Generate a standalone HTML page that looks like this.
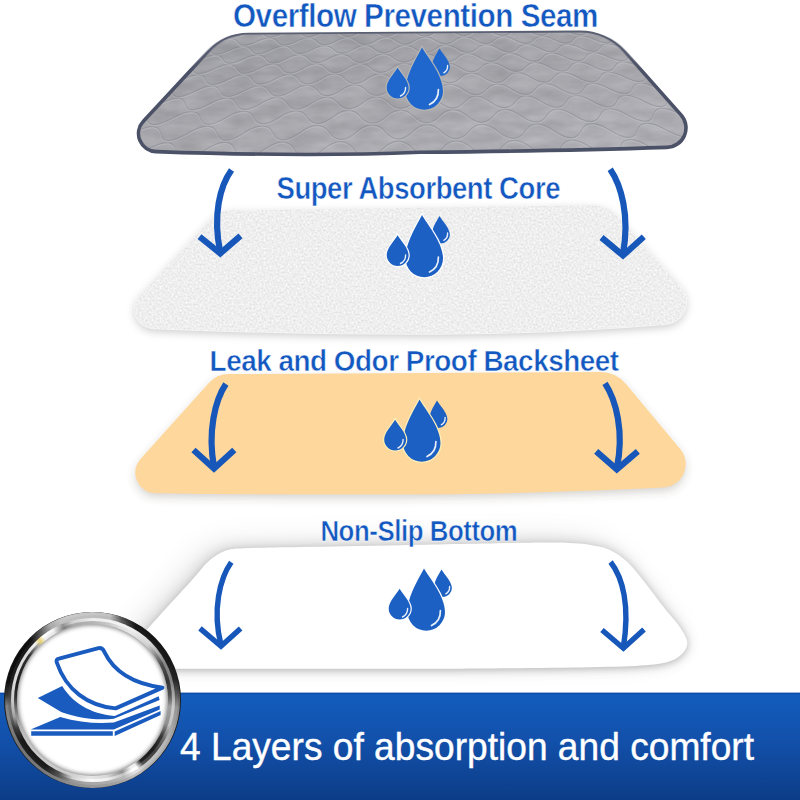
<!DOCTYPE html>
<html>
<head>
<meta charset="utf-8">
<title>4 Layers of absorption and comfort</title>
<style>
  html, body { margin: 0; padding: 0; background: #ffffff; }
  body { width: 800px; height: 800px; overflow: hidden; position: relative; font-family: "Liberation Sans", sans-serif; }
  svg { display: block; position: absolute; left: 0; top: 0; }
  .lbl { font-family: "Liberation Sans", sans-serif; font-weight: bold; fill: #1358c0; letter-spacing: -0.5px; stroke: #ffffff; stroke-width: 0.5px; }
  .banner-txt { font-family: "Liberation Sans", sans-serif; font-weight: normal; fill: #ffffff; stroke: #ffffff; stroke-width: 0.4px; }
  .ring { position: absolute; border-radius: 50%; }
  #ringEdge { left: 4.1px; top: 611.6px; width: 176.8px; height: 176.8px; background: #1c1c1c; }
  #ringB1 { left: 4.8px; top: 612.3px; width: 175.4px; height: 175.4px; background: conic-gradient(from 0deg, #c6c6c6 0deg, #c0c0c0 12deg, #505050 20deg, #181818 30deg, #141414 45deg, #161616 62deg, #222222 76deg, #505050 86deg, #888888 95deg, #989898 108deg, #a8a8a8 118deg, #b0b0b0 130deg, #b4b4b4 142deg, #c0c0c0 147deg, #c0c0c0 151deg, #a8a8a8 158deg, #9c9c9c 170deg, #989898 182deg, #909090 195deg, #808080 205deg, #787878 215deg, #747474 240deg, #7c7c7c 250deg, #888888 258deg, #808080 266deg, #383838 273deg, #101010 282deg, #0c0c0c 305deg, #121212 314deg, #505050 322deg, #a8a8a8 330deg, #c4c4c4 338deg, #c8c8c8 345deg, #c6c6c6 360deg); }
  #ringB2 { left: 7.5px; top: 615.0px; width: 170.0px; height: 170.0px; background: conic-gradient(from 0deg, #bebebe 0deg, #b8b8b8 12deg, #606060 20deg, #1c1c1c 30deg, #181818 45deg, #1a1a1a 62deg, #262626 76deg, #585858 86deg, #969696 95deg, #a4a4a4 108deg, #b4b4b4 118deg, #bebebe 130deg, #c4c4c4 142deg, #e0e0e0 147deg, #e0e0e0 151deg, #b8b8b8 158deg, #acacac 170deg, #a8a8a8 182deg, #989898 195deg, #505050 205deg, #202020 215deg, #1c1c1c 240deg, #383838 250deg, #686868 258deg, #707070 266deg, #404040 273deg, #202020 282deg, #1a1a1a 305deg, #202020 314deg, #606060 322deg, #a8a8a8 330deg, #c0c0c0 338deg, #c0c0c0 345deg, #bebebe 360deg); }
  #ringB3 { left: 10.5px; top: 618.0px; width: 164.0px; height: 164.0px; background: conic-gradient(from 0deg, #eeeeee 0deg, #f0f0f0 12deg, #f4f4f4 20deg, #eeeeee 30deg, #d8d8d8 45deg, #888888 62deg, #808080 76deg, #a8a8a8 86deg, #cccccc 95deg, #c4c4c4 108deg, #707070 118deg, #404040 130deg, #505050 142deg, #ffffff 147deg, #ffffff 151deg, #c0c0c0 158deg, #f0f0f0 170deg, #fafafa 182deg, #d0d0d0 195deg, #505050 205deg, #1a1a1a 215deg, #181818 240deg, #404040 250deg, #a0a0a0 258deg, #c0c0c0 266deg, #d0d0d0 273deg, #d8d8d8 282deg, #dcdcdc 305deg, #f0f0f0 314deg, #ead47a 318.5deg, #ffffff 322deg, #f4f4f4 330deg, #909090 338deg, #d0d0d0 345deg, #eeeeee 360deg); }
  #ringB4 { left: 13.5px; top: 621.0px; width: 158.0px; height: 158.0px; background: conic-gradient(from 0deg, #b4b4b4 0deg, #c8c8c8 12deg, #e0e0e0 20deg, #e8e8e8 30deg, #d0d0d0 45deg, #505050 62deg, #343434 76deg, #505050 86deg, #a0a0a0 95deg, #909090 108deg, #383838 118deg, #1c1c1c 130deg, #222222 142deg, #f0f0f0 147deg, #f0f0f0 151deg, #909090 158deg, #d8d8d8 170deg, #e6e6e6 182deg, #d0d0d0 195deg, #c8c8c8 205deg, #cccccc 215deg, #c4c4c4 240deg, #b0b0b0 250deg, #909090 258deg, #606060 266deg, #303030 273deg, #1c1c1c 282deg, #303030 305deg, #a0a0a0 314deg, #ead47a 318.5deg, #f0f0f0 322deg, #e8e8e8 330deg, #808080 338deg, #a8a8a8 345deg, #b4b4b4 360deg); }
  #ringHole { left: 16.7px; top: 624.2px; width: 151.6px; height: 151.6px; background: #ffffff; box-shadow: inset 0 0 4.5px 1px rgba(0,0,0,0.5); }
</style>
</head>
<body>
<svg width="800" height="800" viewBox="0 0 800 800">
  <defs>
    <!-- water drops icon; origin = tip of the big drop -->
    <g id="drops">
      <path d="M17.5,0.9 C20.5,6 27.9,13 27.9,19.5 A9,9 0 0 1 9.9,19.5 C9.9,13 14.5,6 17.5,0.9 Z" fill="var(--df,#1c60c4)"/>
      <path d="M25.6,18 C25.8,21.5 24.3,24 21.8,25.3" fill="none" stroke="#ffffff" stroke-opacity="0.9" stroke-width="1.4" stroke-linecap="round"/>
      <path d="M0,0 C5,9 21,27.5 21,43.4 A18.75,18.75 0 0 1 -16.5,43.4 C-16.5,27.5 -4.5,9 0,0 Z" fill="var(--df,#1c60c4)" stroke="currentColor" stroke-width="2.4" paint-order="stroke"/>
      <path d="M16.4,42 C16.6,49 13,54.5 7.5,57" fill="none" stroke="#ffffff" stroke-opacity="0.9" stroke-width="1.7" stroke-linecap="round"/>
      <path d="M-24.4,20.2 C-21.5,25.5 -13.4,33 -13.4,40 A10.95,10.95 0 0 1 -35.3,40 C-35.3,33 -27.3,25.5 -24.4,20.2 Z" fill="var(--df,#1c60c4)" stroke="currentColor" stroke-width="2.4" paint-order="stroke"/>
      <path d="M-16.4,40 C-16.3,44 -18.5,47 -21.5,48.5" fill="none" stroke="#ffffff" stroke-opacity="0.9" stroke-width="1.4" stroke-linecap="round"/>
    </g>

    <linearGradient id="pad1G" x1="0.1" y1="0" x2="0.9" y2="1">
      <stop offset="0" stop-color="#9a9aa1"/>
      <stop offset="0.5" stop-color="#a6a6ab"/>
      <stop offset="1" stop-color="#b0b0b6"/>
    </linearGradient>
    <linearGradient id="pad1MG" x1="0" y1="34" x2="0" y2="70" gradientUnits="userSpaceOnUse">
      <stop offset="0" stop-color="#000000"/>
      <stop offset="1" stop-color="#ffffff"/>
    </linearGradient>
    <mask id="pad1M" maskUnits="userSpaceOnUse" x="100" y="20" width="620" height="150"><rect x="100" y="20" width="620" height="150" fill="url(#pad1MG)"/></mask>
    <clipPath id="pad1C"><path d="M208.4,51.3 A55,55 0 0 1 248.4,33.7 L579.5,31.5 A60,60 0 0 1 624.8,51.6 L681.0,114.9 A19.5,19.5 0 0 1 666.9,147.4 Q560,151 420,152.3 Q307,157 156.1,151.6 A18,18 0 0 1 143.4,121.3 Z"/></clipPath>
    <clipPath id="pad2C"><path d="M210.4,219.9 A30,30 0 0 1 231.9,210.3 L591.3,205.2 A35,35 0 0 1 617.8,216.8 L680.6,286.6 A22.5,22.5 0 0 1 664.8,324.2 Q560,333 437,334 Q300,334.5 153.7,328.4 A19.5,19.5 0 0 1 140.2,295.2 Z"/></clipPath>

    <filter id="fleece" x="0" y="0" width="100%" height="100%" color-interpolation-filters="sRGB">
      <feTurbulence type="fractalNoise" baseFrequency="0.5" numOctaves="2" seed="7" result="n"/>
      <feColorMatrix in="n" type="matrix" values="0.17 0 0 0 0.85  0.17 0 0 0 0.85  0.17 0 0 0 0.85  0 0 0 0 1"/>
    </filter>
    <filter id="fabric" x="0" y="0" width="100%" height="100%" color-interpolation-filters="sRGB">
      <feTurbulence type="fractalNoise" baseFrequency="0.035 0.09" numOctaves="3" seed="11" result="n"/>
      <feColorMatrix in="n" type="matrix" values="0.9 0 0 0 0.21  0.9 0 0 0 0.21  0.9 0 0 0 0.23  0 0 0 0 0.13"/>
    </filter>
    <filter id="sh2" x="-10%" y="-20%" width="120%" height="150%">
      <feGaussianBlur stdDeviation="3"/>
    </filter>
    <filter id="sh3" x="-10%" y="-20%" width="120%" height="150%">
      <feGaussianBlur stdDeviation="4"/>
    </filter>
    <filter id="sh5" x="-20%" y="-40%" width="140%" height="180%">
      <feGaussianBlur stdDeviation="13"/>
    </filter>
    <filter id="sh4" x="-15%" y="-25%" width="130%" height="160%">
      <feGaussianBlur stdDeviation="7"/>
    </filter>
    <filter id="soft1" x="-5%" y="-5%" width="110%" height="110%">
      <feGaussianBlur stdDeviation="0.7"/>
    </filter>
    <linearGradient id="bannerG" x1="0" y1="0" x2="0" y2="1">
      <stop offset="0" stop-color="#135dbd"/>
      <stop offset="0.45" stop-color="#1250aa"/>
      <stop offset="1" stop-color="#0c3c86"/>
    </linearGradient>
  </defs>

  <!-- ============ LAYER 1 : grey quilted pad ============ -->
  <path d="M208.4,51.3 A55,55 0 0 1 248.4,33.7 L579.5,31.5 A60,60 0 0 1 624.8,51.6 L681.0,114.9 A19.5,19.5 0 0 1 666.9,147.4 Q560,151 420,152.3 Q307,157 156.1,151.6 A18,18 0 0 1 143.4,121.3 Z" fill="url(#pad1G)"/>
  <g clip-path="url(#pad1C)"><rect x="125" y="25" width="575" height="140" fill="#a6a6ab" filter="url(#fabric)"/></g>
  <g clip-path="url(#pad1C)" fill="none">
    <path d="M224.6,33.9Q228.2,40.6 243.7,33.8Q258.3,27.3 262.8,33.6Q267.6,40.3 281.9,33.5Q295.4,27.1 301.0,33.4Q307.0,40.1 320.1,33.3Q332.4,26.8 339.2,33.1Q346.5,39.8 358.3,33.0Q369.5,26.6 377.4,32.9Q385.9,39.5 396.5,32.7Q406.5,26.3 415.6,32.6Q425.3,39.3 434.7,32.5Q443.6,26.1 453.8,32.3Q464.8,39.0 472.9,32.2Q480.6,25.8 492.1,32.1Q504.2,38.7 511.2,32.0Q517.7,25.6 530.3,31.8Q543.6,38.5 549.4,31.7Q554.8,25.3 568.5,31.6Q583.1,38.2 587.6,31.4Q591.8,25.1 606.7,31.3 M217.4,41.7Q233.3,34.8 237.2,41.6Q241.3,48.8 257.0,41.4Q271.7,34.5 276.8,41.3Q282.2,48.5 296.6,41.2Q310.1,34.3 316.4,41.0Q323.1,48.2 336.2,40.9Q348.4,34.0 356.0,40.8Q364.1,47.9 375.8,40.6Q386.8,33.7 395.6,40.5Q405.0,47.7 415.4,40.3Q425.2,33.5 435.2,40.2Q446.0,47.4 455.1,40.1Q463.6,33.2 474.9,39.9Q486.9,47.1 494.7,39.8Q502.0,33.0 514.5,39.7Q527.8,46.8 534.3,39.5Q540.4,32.7 554.1,39.4Q568.8,46.6 573.9,39.3Q578.7,32.4 593.7,39.1Q609.7,46.3 613.5,39.0 M209.6,50.1Q212.9,57.9 230.1,49.9Q246.3,42.5 250.7,49.8Q255.4,57.6 271.3,49.7Q286.1,42.2 291.8,49.5Q298.0,57.3 312.4,49.4Q325.9,42.0 333.0,49.2Q340.5,57.0 353.5,49.1Q365.7,41.7 374.1,49.0Q383.1,56.7 394.7,48.8Q405.5,41.4 415.2,48.7Q425.7,56.4 435.8,48.5Q445.3,41.2 456.4,48.4Q468.2,56.2 476.9,48.3Q485.1,40.9 497.5,48.1Q510.8,55.9 518.1,48.0Q524.9,40.6 538.6,47.8Q553.3,55.6 559.2,47.7Q564.7,40.3 579.8,47.6Q595.9,55.3 600.3,47.4Q604.5,40.1 620.9,47.3 M201.2,59.1Q218.9,51.1 222.5,59.0Q226.5,67.4 243.9,58.8Q260.2,50.8 265.3,58.7Q270.8,67.1 286.7,58.6Q301.5,50.6 308.1,58.4Q315.1,66.8 329.5,58.3Q342.9,50.3 350.8,58.1Q359.4,66.5 372.2,58.0Q384.2,50.0 393.6,57.8Q403.7,66.2 415.0,57.7Q425.5,49.7 436.4,57.5Q448.0,65.9 457.8,57.4Q466.9,49.4 479.1,57.3Q492.3,65.6 500.5,57.1Q508.2,49.1 521.9,57.0Q536.6,65.3 543.3,56.8Q549.5,48.9 564.7,56.7Q581.0,65.0 586.1,56.5Q590.9,48.6 607.5,56.4Q625.3,64.7 628.9,56.2 M192.0,68.9Q195.0,78.1 214.3,68.8Q232.3,60.1 236.6,68.6Q241.2,77.8 258.9,68.5Q275.3,59.8 281.1,68.3Q287.4,77.5 303.4,68.2Q318.2,59.5 325.7,68.0Q333.6,77.2 347.9,67.9Q361.2,59.2 370.2,67.7Q379.8,76.9 392.5,67.6Q404.2,58.9 414.7,67.4Q426.1,76.6 437.0,67.3Q447.2,58.7 459.3,67.1Q472.3,76.2 481.6,67.0Q490.2,58.4 503.8,66.8Q518.5,75.9 526.1,66.7Q533.2,58.1 548.4,66.5Q564.7,75.6 570.6,66.4Q576.2,57.8 592.9,66.2Q610.9,75.3 615.2,66.1Q619.2,57.5 637.5,65.9 M182.2,79.6Q202.0,70.2 205.4,79.4Q209.0,89.5 228.6,79.3Q246.8,69.9 251.8,79.1Q257.3,89.1 275.1,79.0Q291.6,69.6 298.3,78.8Q305.6,88.8 321.5,78.7Q336.3,69.3 344.8,78.5Q353.8,88.5 368.0,78.3Q381.1,68.9 391.2,78.2Q402.1,88.1 414.5,78.0Q425.9,68.6 437.7,77.9Q450.4,87.8 460.9,77.7Q470.7,68.3 484.2,77.6Q498.7,87.5 507.4,77.4Q515.5,68.0 530.6,77.2Q547.0,87.2 553.9,77.1Q560.2,67.7 577.1,76.9Q595.3,86.8 600.4,76.8Q605.0,67.4 623.6,76.6Q643.6,86.5 646.8,76.4 M171.4,91.2Q173.7,102.2 195.6,91.1Q215.9,80.8 219.9,90.9Q224.3,101.8 244.2,90.7Q262.6,80.5 268.5,90.6Q274.8,101.5 292.8,90.4Q309.3,80.1 317.0,90.2Q325.4,101.2 341.3,90.1Q356.0,79.8 365.6,89.9Q376.0,100.8 389.9,89.7Q402.7,79.5 414.2,89.6Q426.5,100.5 438.5,89.4Q449.5,79.2 462.7,89.2Q477.1,100.1 487.0,89.1Q496.2,78.9 511.3,88.9Q527.7,99.8 535.6,88.8Q542.9,78.6 559.9,88.6Q578.2,99.4 584.2,88.4Q589.7,78.2 608.5,88.3Q628.8,99.1 632.7,88.1Q636.4,77.9 657.0,87.9 M159.5,103.9Q182.1,92.7 185.0,103.8Q188.1,115.8 210.4,103.6Q231.0,92.3 235.8,103.4Q241.1,115.5 261.3,103.2Q279.8,92.0 286.7,103.1Q294.2,115.1 312.1,102.9Q328.7,91.7 337.5,102.7Q347.2,114.7 363.0,102.6Q377.5,91.4 388.4,102.4Q400.3,114.4 413.8,102.2Q426.3,91.0 439.3,102.0Q453.3,114.0 464.7,101.9Q475.2,90.7 490.1,101.7Q506.4,113.7 515.6,101.5Q524.0,90.4 541.0,101.4Q559.5,113.3 566.5,101.2Q572.9,90.0 591.9,101.0Q612.5,112.9 617.3,100.8Q621.7,89.7 642.8,100.7Q665.6,112.6 668.2,100.5 M146.6,117.9Q148.1,131.2 173.3,117.7Q196.4,105.4 199.9,117.6Q203.9,130.9 226.6,117.4Q247.5,105.0 253.3,117.2Q259.7,130.5 280.0,117.0Q298.7,104.7 306.7,116.8Q315.5,130.1 333.4,116.7Q349.8,104.3 360.1,116.5Q371.3,129.7 386.8,116.3Q401.0,104.0 413.5,116.1Q427.1,129.3 440.2,115.9Q452.2,103.6 466.9,115.7Q482.9,129.0 493.6,115.6Q503.4,103.3 520.3,115.4Q538.7,128.6 547.0,115.2Q554.5,102.9 573.7,115.0Q594.6,128.2 600.4,114.8Q605.7,102.6 627.1,114.7Q650.4,127.8 653.8,114.5Q656.9,102.2 680.5,114.3 M132.2,133.4Q158.3,119.7 160.3,133.2Q162.5,147.9 188.4,133.0Q212.0,119.3 216.5,132.8Q221.4,147.5 244.6,132.6Q265.7,119.0 272.6,132.4Q280.3,147.1 300.7,132.2Q319.4,118.6 328.8,132.0Q339.1,146.7 356.9,131.8Q373.1,118.2 385.0,131.6Q398.0,146.3 413.1,131.5Q426.9,117.9 441.2,131.3Q456.9,146.0 469.3,131.1Q480.6,117.5 497.4,130.9Q515.7,145.6 525.5,130.7Q534.3,117.1 553.6,130.5Q574.6,145.2 581.7,130.3Q588.1,116.8 609.8,130.1Q633.5,144.8 637.8,129.9Q641.8,116.4 665.9,129.8Q692.4,144.4 694.0,129.6 M116.3,150.5Q116.4,167.0 145.9,150.3Q172.7,135.1 175.6,150.1Q178.7,166.6 205.2,149.9Q229.3,134.7 234.8,149.7Q241.0,166.2 264.5,149.5Q285.8,134.4 294.1,149.3Q303.2,165.7 323.7,149.1Q342.4,134.0 353.4,148.9Q365.5,165.3 383.0,148.7Q398.9,133.6 412.7,148.5Q427.8,164.9 442.3,148.3Q455.5,133.2 471.9,148.1Q490.1,164.5 501.6,147.9Q512.0,132.8 531.2,147.7Q552.4,164.1 560.9,147.5Q568.6,132.5 590.5,147.3Q614.7,163.6 620.2,147.1Q625.1,132.1 649.8,146.9Q677.0,163.2 679.5,146.7Q681.7,131.7 709.1,146.5" stroke="#85858d" stroke-opacity="0.5" stroke-width="1.1"/>
    <path d="M224.6,33.9Q228.2,40.6 243.7,33.8Q258.3,27.3 262.8,33.6Q267.6,40.3 281.9,33.5Q295.4,27.1 301.0,33.4Q307.0,40.1 320.1,33.3Q332.4,26.8 339.2,33.1Q346.5,39.8 358.3,33.0Q369.5,26.6 377.4,32.9Q385.9,39.5 396.5,32.7Q406.5,26.3 415.6,32.6Q425.3,39.3 434.7,32.5Q443.6,26.1 453.8,32.3Q464.8,39.0 472.9,32.2Q480.6,25.8 492.1,32.1Q504.2,38.7 511.2,32.0Q517.7,25.6 530.3,31.8Q543.6,38.5 549.4,31.7Q554.8,25.3 568.5,31.6Q583.1,38.2 587.6,31.4Q591.8,25.1 606.7,31.3 M217.4,41.7Q233.3,34.8 237.2,41.6Q241.3,48.8 257.0,41.4Q271.7,34.5 276.8,41.3Q282.2,48.5 296.6,41.2Q310.1,34.3 316.4,41.0Q323.1,48.2 336.2,40.9Q348.4,34.0 356.0,40.8Q364.1,47.9 375.8,40.6Q386.8,33.7 395.6,40.5Q405.0,47.7 415.4,40.3Q425.2,33.5 435.2,40.2Q446.0,47.4 455.1,40.1Q463.6,33.2 474.9,39.9Q486.9,47.1 494.7,39.8Q502.0,33.0 514.5,39.7Q527.8,46.8 534.3,39.5Q540.4,32.7 554.1,39.4Q568.8,46.6 573.9,39.3Q578.7,32.4 593.7,39.1Q609.7,46.3 613.5,39.0 M209.6,50.1Q212.9,57.9 230.1,49.9Q246.3,42.5 250.7,49.8Q255.4,57.6 271.3,49.7Q286.1,42.2 291.8,49.5Q298.0,57.3 312.4,49.4Q325.9,42.0 333.0,49.2Q340.5,57.0 353.5,49.1Q365.7,41.7 374.1,49.0Q383.1,56.7 394.7,48.8Q405.5,41.4 415.2,48.7Q425.7,56.4 435.8,48.5Q445.3,41.2 456.4,48.4Q468.2,56.2 476.9,48.3Q485.1,40.9 497.5,48.1Q510.8,55.9 518.1,48.0Q524.9,40.6 538.6,47.8Q553.3,55.6 559.2,47.7Q564.7,40.3 579.8,47.6Q595.9,55.3 600.3,47.4Q604.5,40.1 620.9,47.3 M201.2,59.1Q218.9,51.1 222.5,59.0Q226.5,67.4 243.9,58.8Q260.2,50.8 265.3,58.7Q270.8,67.1 286.7,58.6Q301.5,50.6 308.1,58.4Q315.1,66.8 329.5,58.3Q342.9,50.3 350.8,58.1Q359.4,66.5 372.2,58.0Q384.2,50.0 393.6,57.8Q403.7,66.2 415.0,57.7Q425.5,49.7 436.4,57.5Q448.0,65.9 457.8,57.4Q466.9,49.4 479.1,57.3Q492.3,65.6 500.5,57.1Q508.2,49.1 521.9,57.0Q536.6,65.3 543.3,56.8Q549.5,48.9 564.7,56.7Q581.0,65.0 586.1,56.5Q590.9,48.6 607.5,56.4Q625.3,64.7 628.9,56.2 M192.0,68.9Q195.0,78.1 214.3,68.8Q232.3,60.1 236.6,68.6Q241.2,77.8 258.9,68.5Q275.3,59.8 281.1,68.3Q287.4,77.5 303.4,68.2Q318.2,59.5 325.7,68.0Q333.6,77.2 347.9,67.9Q361.2,59.2 370.2,67.7Q379.8,76.9 392.5,67.6Q404.2,58.9 414.7,67.4Q426.1,76.6 437.0,67.3Q447.2,58.7 459.3,67.1Q472.3,76.2 481.6,67.0Q490.2,58.4 503.8,66.8Q518.5,75.9 526.1,66.7Q533.2,58.1 548.4,66.5Q564.7,75.6 570.6,66.4Q576.2,57.8 592.9,66.2Q610.9,75.3 615.2,66.1Q619.2,57.5 637.5,65.9 M182.2,79.6Q202.0,70.2 205.4,79.4Q209.0,89.5 228.6,79.3Q246.8,69.9 251.8,79.1Q257.3,89.1 275.1,79.0Q291.6,69.6 298.3,78.8Q305.6,88.8 321.5,78.7Q336.3,69.3 344.8,78.5Q353.8,88.5 368.0,78.3Q381.1,68.9 391.2,78.2Q402.1,88.1 414.5,78.0Q425.9,68.6 437.7,77.9Q450.4,87.8 460.9,77.7Q470.7,68.3 484.2,77.6Q498.7,87.5 507.4,77.4Q515.5,68.0 530.6,77.2Q547.0,87.2 553.9,77.1Q560.2,67.7 577.1,76.9Q595.3,86.8 600.4,76.8Q605.0,67.4 623.6,76.6Q643.6,86.5 646.8,76.4 M171.4,91.2Q173.7,102.2 195.6,91.1Q215.9,80.8 219.9,90.9Q224.3,101.8 244.2,90.7Q262.6,80.5 268.5,90.6Q274.8,101.5 292.8,90.4Q309.3,80.1 317.0,90.2Q325.4,101.2 341.3,90.1Q356.0,79.8 365.6,89.9Q376.0,100.8 389.9,89.7Q402.7,79.5 414.2,89.6Q426.5,100.5 438.5,89.4Q449.5,79.2 462.7,89.2Q477.1,100.1 487.0,89.1Q496.2,78.9 511.3,88.9Q527.7,99.8 535.6,88.8Q542.9,78.6 559.9,88.6Q578.2,99.4 584.2,88.4Q589.7,78.2 608.5,88.3Q628.8,99.1 632.7,88.1Q636.4,77.9 657.0,87.9 M159.5,103.9Q182.1,92.7 185.0,103.8Q188.1,115.8 210.4,103.6Q231.0,92.3 235.8,103.4Q241.1,115.5 261.3,103.2Q279.8,92.0 286.7,103.1Q294.2,115.1 312.1,102.9Q328.7,91.7 337.5,102.7Q347.2,114.7 363.0,102.6Q377.5,91.4 388.4,102.4Q400.3,114.4 413.8,102.2Q426.3,91.0 439.3,102.0Q453.3,114.0 464.7,101.9Q475.2,90.7 490.1,101.7Q506.4,113.7 515.6,101.5Q524.0,90.4 541.0,101.4Q559.5,113.3 566.5,101.2Q572.9,90.0 591.9,101.0Q612.5,112.9 617.3,100.8Q621.7,89.7 642.8,100.7Q665.6,112.6 668.2,100.5 M146.6,117.9Q148.1,131.2 173.3,117.7Q196.4,105.4 199.9,117.6Q203.9,130.9 226.6,117.4Q247.5,105.0 253.3,117.2Q259.7,130.5 280.0,117.0Q298.7,104.7 306.7,116.8Q315.5,130.1 333.4,116.7Q349.8,104.3 360.1,116.5Q371.3,129.7 386.8,116.3Q401.0,104.0 413.5,116.1Q427.1,129.3 440.2,115.9Q452.2,103.6 466.9,115.7Q482.9,129.0 493.6,115.6Q503.4,103.3 520.3,115.4Q538.7,128.6 547.0,115.2Q554.5,102.9 573.7,115.0Q594.6,128.2 600.4,114.8Q605.7,102.6 627.1,114.7Q650.4,127.8 653.8,114.5Q656.9,102.2 680.5,114.3 M132.2,133.4Q158.3,119.7 160.3,133.2Q162.5,147.9 188.4,133.0Q212.0,119.3 216.5,132.8Q221.4,147.5 244.6,132.6Q265.7,119.0 272.6,132.4Q280.3,147.1 300.7,132.2Q319.4,118.6 328.8,132.0Q339.1,146.7 356.9,131.8Q373.1,118.2 385.0,131.6Q398.0,146.3 413.1,131.5Q426.9,117.9 441.2,131.3Q456.9,146.0 469.3,131.1Q480.6,117.5 497.4,130.9Q515.7,145.6 525.5,130.7Q534.3,117.1 553.6,130.5Q574.6,145.2 581.7,130.3Q588.1,116.8 609.8,130.1Q633.5,144.8 637.8,129.9Q641.8,116.4 665.9,129.8Q692.4,144.4 694.0,129.6 M116.3,150.5Q116.4,167.0 145.9,150.3Q172.7,135.1 175.6,150.1Q178.7,166.6 205.2,149.9Q229.3,134.7 234.8,149.7Q241.0,166.2 264.5,149.5Q285.8,134.4 294.1,149.3Q303.2,165.7 323.7,149.1Q342.4,134.0 353.4,148.9Q365.5,165.3 383.0,148.7Q398.9,133.6 412.7,148.5Q427.8,164.9 442.3,148.3Q455.5,133.2 471.9,148.1Q490.1,164.5 501.6,147.9Q512.0,132.8 531.2,147.7Q552.4,164.1 560.9,147.5Q568.6,132.5 590.5,147.3Q614.7,163.6 620.2,147.1Q625.1,132.1 649.8,146.9Q677.0,163.2 679.5,146.7Q681.7,131.7 709.1,146.5" stroke="#c6c6cc" stroke-opacity="0.38" stroke-width="1.2" transform="translate(0,1.3)"/>
  </g>
  <path d="M208.4,51.3 A55,55 0 0 1 248.4,33.7 L579.5,31.5 A60,60 0 0 1 624.8,51.6 L681.0,114.9 A19.5,19.5 0 0 1 666.9,147.4 Q560,151 420,152.3 Q307,157 156.1,151.6 A18,18 0 0 1 143.4,121.3 Z" fill="none" stroke="#5a5f72" stroke-width="1.8" filter="url(#soft1)"/>
  <path d="M208.4,51.3 A55,55 0 0 1 248.4,33.7 L579.5,31.5 A60,60 0 0 1 624.8,51.6 L681.0,114.9 A19.5,19.5 0 0 1 666.9,147.4 Q560,151 420,152.3 Q307,157 156.1,151.6 A18,18 0 0 1 143.4,121.3 Z" fill="none" stroke="#4c5166" stroke-width="3.6" filter="url(#soft1)" mask="url(#pad1M)"/>

  <!-- ============ LAYER 2 : white fleece pad ============ -->
  <path d="M210.4,219.9 A30,30 0 0 1 231.9,210.3 L591.3,205.2 A35,35 0 0 1 617.8,216.8 L680.6,286.6 A22.5,22.5 0 0 1 664.8,324.2 Q560,333 437,334 Q300,334.5 153.7,328.4 A19.5,19.5 0 0 1 140.2,295.2 Z" fill="#000000" fill-opacity="0.2" filter="url(#sh3)" transform="translate(0,3)"/>
  <path d="M210.4,219.9 A30,30 0 0 1 231.9,210.3 L591.3,205.2 A35,35 0 0 1 617.8,216.8 L680.6,286.6 A22.5,22.5 0 0 1 664.8,324.2 Q560,333 437,334 Q300,334.5 153.7,328.4 A19.5,19.5 0 0 1 140.2,295.2 Z" fill="#efefef" stroke="#f6f6f6" stroke-width="1.5"/>
  <g clip-path="url(#pad2C)">
    <rect x="125" y="200" width="575" height="140" fill="#ededed" filter="url(#fleece)"/>
  </g>

  <!-- ============ LAYER 3 : peach backsheet ============ -->
  <path d="M208.4,383.4 A28,28 0 0 1 229.1,374.1 L599.9,372.0 A34,34 0 0 1 626.2,384.2 L681.2,450.3 A23.5,23.5 0 0 1 663.7,487.6 Q540,494 400,494.5 Q280,495 155.7,493.2 A20.5,20.5 0 0 1 140.5,459.0 Z" fill="#4a4030" fill-opacity="0.22" filter="url(#sh3)" transform="translate(0,4)"/>
  <path d="M208.4,383.4 A28,28 0 0 1 229.1,374.1 L599.9,372.0 A34,34 0 0 1 626.2,384.2 L681.2,450.3 A23.5,23.5 0 0 1 663.7,487.6 Q540,494 400,494.5 Q280,495 155.7,493.2 A20.5,20.5 0 0 1 140.5,459.0 Z" fill="#fed79c"/>

  <!-- ============ LAYER 4 : white non-slip bottom ============ -->
  <path d="M112.0,668.8 C118.1,661.9 139.1,638.3 148.8,627.5 C158.4,616.7 162.8,611.9 170.0,604.0 C177.2,596.1 185.5,587.2 192.0,580.0 C198.5,572.8 203.1,565.9 208.8,561.0 C214.4,556.1 220.1,552.7 226.0,550.6 C231.9,548.5 231.7,548.8 244.0,548.2 C256.3,547.6 274.0,547.5 300.0,547.0 C326.0,546.5 360.0,545.9 400.0,545.2 C440.0,544.5 510.8,542.9 540.0,542.6 C569.2,542.3 566.3,542.9 575.0,543.3 C583.7,543.7 586.4,544.2 592.0,545.2 C597.6,546.2 602.8,546.7 608.8,549.5 C614.7,552.3 621.3,556.2 627.5,562.0 C633.7,567.8 639.8,576.2 646.0,584.0 C652.2,591.8 659.7,602.0 665.0,608.8 C670.3,615.5 674.3,619.2 678.0,624.5 C681.7,629.8 686.0,636.0 687.0,640.6 C688.0,645.2 686.5,648.6 683.8,652.0 C681.0,655.4 676.9,658.8 670.6,661.0 C664.3,663.2 659.4,664.2 646.0,665.2 C632.6,666.2 617.7,666.7 590.0,667.2 C562.3,667.8 511.7,668.2 480.0,668.5 C448.3,668.8 413.3,668.8 400.0,668.8 L112,668.8 Z" fill="#000000" fill-opacity="0.09" filter="url(#sh5)" transform="translate(-10,-6)"/>
  <path d="M112.0,668.8 C118.1,661.9 139.1,638.3 148.8,627.5 C158.4,616.7 162.8,611.9 170.0,604.0 C177.2,596.1 185.5,587.2 192.0,580.0 C198.5,572.8 203.1,565.9 208.8,561.0 C214.4,556.1 220.1,552.7 226.0,550.6 C231.9,548.5 231.7,548.8 244.0,548.2 C256.3,547.6 274.0,547.5 300.0,547.0 C326.0,546.5 360.0,545.9 400.0,545.2 C440.0,544.5 510.8,542.9 540.0,542.6 C569.2,542.3 566.3,542.9 575.0,543.3 C583.7,543.7 586.4,544.2 592.0,545.2 C597.6,546.2 602.8,546.7 608.8,549.5 C614.7,552.3 621.3,556.2 627.5,562.0 C633.7,567.8 639.8,576.2 646.0,584.0 C652.2,591.8 659.7,602.0 665.0,608.8 C670.3,615.5 674.3,619.2 678.0,624.5 C681.7,629.8 686.0,636.0 687.0,640.6 C688.0,645.2 686.5,648.6 683.8,652.0 C681.0,655.4 676.9,658.8 670.6,661.0 C664.3,663.2 659.4,664.2 646.0,665.2 C632.6,666.2 617.7,666.7 590.0,667.2 C562.3,667.8 511.7,668.2 480.0,668.5 C448.3,668.8 413.3,668.8 400.0,668.8 L112,668.8 Z" fill="#000000" fill-opacity="0.17" filter="url(#sh4)" transform="translate(-1,0)"/>
  <path d="M112.0,668.8 C118.1,661.9 139.1,638.3 148.8,627.5 C158.4,616.7 162.8,611.9 170.0,604.0 C177.2,596.1 185.5,587.2 192.0,580.0 C198.5,572.8 203.1,565.9 208.8,561.0 C214.4,556.1 220.1,552.7 226.0,550.6 C231.9,548.5 231.7,548.8 244.0,548.2 C256.3,547.6 274.0,547.5 300.0,547.0 C326.0,546.5 360.0,545.9 400.0,545.2 C440.0,544.5 510.8,542.9 540.0,542.6 C569.2,542.3 566.3,542.9 575.0,543.3 C583.7,543.7 586.4,544.2 592.0,545.2 C597.6,546.2 602.8,546.7 608.8,549.5 C614.7,552.3 621.3,556.2 627.5,562.0 C633.7,567.8 639.8,576.2 646.0,584.0 C652.2,591.8 659.7,602.0 665.0,608.8 C670.3,615.5 674.3,619.2 678.0,624.5 C681.7,629.8 686.0,636.0 687.0,640.6 C688.0,645.2 686.5,648.6 683.8,652.0 C681.0,655.4 676.9,658.8 670.6,661.0 C664.3,663.2 659.4,664.2 646.0,665.2 C632.6,666.2 617.7,666.7 590.0,667.2 C562.3,667.8 511.7,668.2 480.0,668.5 C448.3,668.8 413.3,668.8 400.0,668.8 L112,668.8 Z" fill="#000000" fill-opacity="0.15" filter="url(#sh2)" transform="translate(1,2)"/>
  <path d="M112.0,668.8 C118.1,661.9 139.1,638.3 148.8,627.5 C158.4,616.7 162.8,611.9 170.0,604.0 C177.2,596.1 185.5,587.2 192.0,580.0 C198.5,572.8 203.1,565.9 208.8,561.0 C214.4,556.1 220.1,552.7 226.0,550.6 C231.9,548.5 231.7,548.8 244.0,548.2 C256.3,547.6 274.0,547.5 300.0,547.0 C326.0,546.5 360.0,545.9 400.0,545.2 C440.0,544.5 510.8,542.9 540.0,542.6 C569.2,542.3 566.3,542.9 575.0,543.3 C583.7,543.7 586.4,544.2 592.0,545.2 C597.6,546.2 602.8,546.7 608.8,549.5 C614.7,552.3 621.3,556.2 627.5,562.0 C633.7,567.8 639.8,576.2 646.0,584.0 C652.2,591.8 659.7,602.0 665.0,608.8 C670.3,615.5 674.3,619.2 678.0,624.5 C681.7,629.8 686.0,636.0 687.0,640.6 C688.0,645.2 686.5,648.6 683.8,652.0 C681.0,655.4 676.9,658.8 670.6,661.0 C664.3,663.2 659.4,664.2 646.0,665.2 C632.6,666.2 617.7,666.7 590.0,667.2 C562.3,667.8 511.7,668.2 480.0,668.5 C448.3,668.8 413.3,668.8 400.0,668.8 L112,668.8 Z" fill="#ffffff"/>

  <!-- ============ drops ============ -->
  <use href="#drops" x="422" y="47.5" color="#b9b7b4" style="--df:#1f67cd"/>
  <use href="#drops" x="422" y="215" color="#ffffff"/>
  <use href="#drops" x="419.5" y="399.5" color="#fff0b8"/>
  <use href="#drops" x="424" y="568.5" color="#ffffff"/>

  <!-- ============ arrows ============ -->
  <g fill="none" stroke="#1757ba" stroke-width="6.2" stroke-linejoin="miter" stroke-miterlimit="10">
    <path d="M231.5,170 C220,186 212.5,215 220.2,252"/>
    <path d="M199.5,236.7 L220.25,253.4 L240.5,235.9"/>
    <path d="M610.2,169.2 C621,185 630,215 623,254"/>
    <path d="M601.5,237.5 L623,255.5 L643.8,236.8"/>

    <path d="M225.9,384 C215,400 207.5,432 214,467"/>
    <path d="M193.5,450 L214,468.5 L234.3,450"/>
    <path d="M605,383.4 C616,400 624.5,432 616.8,468"/>
    <path d="M596.2,451.4 L616.8,469.4 L637.8,451.4"/>
  </g>
  <g fill="none" stroke="#1757ba" stroke-width="5.4" stroke-linejoin="miter" stroke-miterlimit="10">
    <path d="M231.25,562.25 C220,578 212,610 221,645"/>
    <path d="M200,628.4 L221,646.2 L240.6,628.4"/>
    <path d="M610.6,562 C623,578 630,606 623.4,647"/>
    <path d="M602,630 L623.4,648.2 L644,629.4"/>
  </g>

  <!-- ============ labels ============ -->
  <text class="lbl" x="233" y="27" font-size="33" textLength="365" lengthAdjust="spacingAndGlyphs">Overflow Prevention Seam</text>
  <text class="lbl" x="276.5" y="199" font-size="30.6" textLength="283.5" lengthAdjust="spacingAndGlyphs">Super Absorbent Core</text>
  <text class="lbl" x="209.6" y="371" font-size="28.8" textLength="409" lengthAdjust="spacingAndGlyphs">Leak and Odor Proof Backsheet</text>
  <text class="lbl" x="320.4" y="541" font-size="28.6" textLength="197" lengthAdjust="spacingAndGlyphs">Non-Slip Bottom</text>

  <!-- ============ bottom banner ============ -->
  <rect x="0" y="693" width="800" height="108" fill="url(#bannerG)"/>
  <rect x="0" y="692.6" width="800" height="1.5" fill="#0f4ca8"/>
  <text class="banner-txt" x="180" y="760" font-size="39" textLength="574" lengthAdjust="spacingAndGlyphs">4 Layers of absorption and comfort</text>
</svg>

<!-- chrome ring -->
<div class="ring" id="ringEdge"></div>
<div class="ring" id="ringB1"></div>
<div class="ring" id="ringB2"></div>
<div class="ring" id="ringB3"></div>
<div class="ring" id="ringB4"></div>
<div class="ring" id="ringHole"></div>

<!-- layers icon -->
<svg width="800" height="800" viewBox="0 0 800 800">
  <g fill="#1a5bbf" stroke="none">
    <!-- bottom slab -->
    <path d="M31.2,729.3 L60.3,716.9 C78,722 96,724 113.8,722.5 L159.7,705.6 L159.7,709.4 L113.8,729.6 L31.2,729.6 Z"/>
    <path d="M31.2,731.2 L112.8,731.2 L112.8,735.8 L31.2,735.8 Z"/>
    <path d="M114.7,731.5 L160.6,710.9 L160.6,715 L114.7,736 Z"/>
    <!-- middle sheet -->
    <path d="M37.8,698 L62.2,686 C72,702 90,714 114.7,716 L158.7,696.2 L159.6,700 L113.8,718.8 C92,721 72,716 61.2,712 Z"/>
  </g>
  <!-- top sheet -->
  <path d="M56.8,662.5 Q55.6,659.2 59,658.6 L98.5,648.1 Q102.6,647.6 104.2,651.6 C114,672 134,684 162.5,687.6 L115.6,708.4 C88,706 66,690 56.8,662.5 Z" fill="#ffffff" stroke="#1a5bbf" stroke-width="3.9" stroke-linejoin="round"/>
</svg>
</body>
</html>
